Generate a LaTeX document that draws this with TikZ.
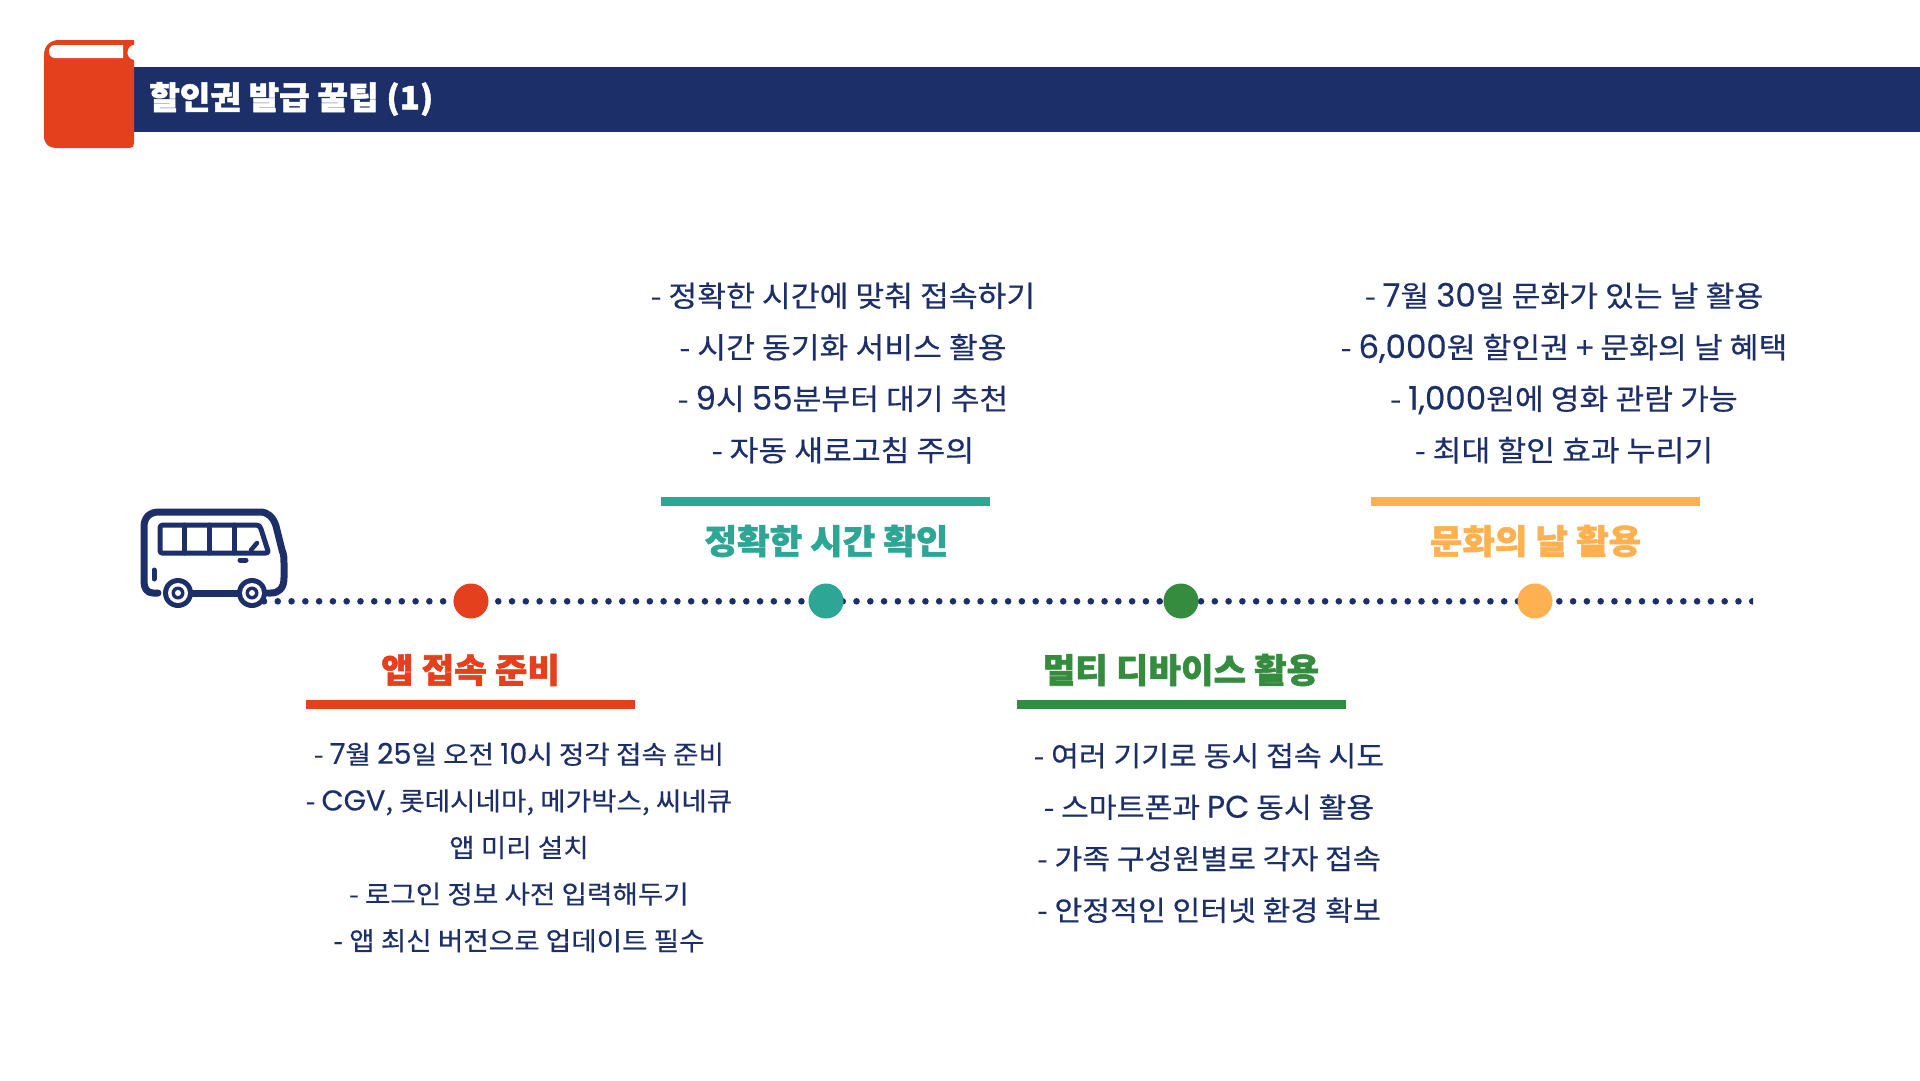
\documentclass[tikz,border=0pt]{standalone}
\usepackage{fontspec}
\setmainfont{Noto Sans CJK KR}[FakeStretch=1.08,FakeBold=0.4,BoldFeatures={FakeBold=1.6,FakeStretch=1.04}]
\newfontfamily\latf{Poppins}[Scale=1.12,FakeBold=0.3]
\newcommand{\lt}[1]{{\latf #1}}
\definecolor{navy}{HTML}{1C2F69}
\definecolor{redc}{HTML}{E5401D}
\definecolor{tealc}{HTML}{2DA696}
\definecolor{greenc}{HTML}{358C3F}
\definecolor{orangec}{HTML}{FFB152}
\tikzset{
 body/.style={text=navy,align=center,inner sep=0pt,font=\fontsize{29}{51.5}\selectfont},
 bodysm/.style={body,font=\fontsize{28}{51.5}\selectfont},
 bodytight/.style={body,font=\fontsize{25.6}{46.6}\selectfont},
 headl/.style={inner sep=0pt,font=\fontsize{34}{40}\selectfont\bfseries},
 mile/.style={circle,minimum size=35pt,inner sep=0pt},
 busl/.style={draw=navy,line width=6pt,line join=round,line cap=round},
 busf/.style={draw=navy,line width=5pt,line join=round,line cap=round},
 dotline/.style={draw=navy,line width=6.6pt,line cap=round,dash pattern=on 0pt off 13.78pt}
}
\begin{document}
\begin{tikzpicture}[x=1pt,y=-1pt]
\useasboundingbox (0,0) rectangle (1920,1080);
% header
\fill[navy] (134,67) rectangle (1920,132);
\node[anchor=west,inner sep=0pt,text=white,font=\fontsize{32}{40}\selectfont\bfseries] (title) at (149,99) {할인권 발급 꿀팁 (1)};
% book
\fill[redc] (134,40) -- (59,40) .. controls (50,40) and (44,46) .. (44,55) -- (44,136) .. controls (44,144) and (49,148) .. (56,148) -- (130,148) .. controls (133,148) and (134,146) .. (134,143) -- cycle;
\fill[white] (123,45) -- (55,45) .. controls (47,45) and (47,58) .. (55,58) -- (123,58) -- cycle;
\fill[white] (134,45) .. controls (127,45) and (124,58) .. (134,60) -- (136,60) -- (136,45) -- cycle;
% dotted line
\coordinate (dstart) at (264,601.3);
\coordinate (dend) at (1752.4,601.3);
\begin{scope}
\clip (250,590) rectangle (1753,612);
\draw[dotline] (dstart) -- (dend);
\end{scope}
% bus
\draw[busl,line width=7pt] (158,593) -- (153,593) .. controls (147,593) and (144,588) .. (144,582) -- (144,527) .. controls (144,517) and (150,512) .. (159,512) -- (260,512) .. controls (268,512) and (273,517) .. (276,526) -- (282,550) .. controls (284,555) and (284,558) .. (284,563) -- (284,578) .. controls (284,588) and (279,593) .. (271,593) -- (268,593);
\draw[busf] (160,528) .. controls (160,526) and (161,525) .. (163,525) -- (256,525) .. controls (259,525) and (260,526) .. (261,529) -- (268,551) .. controls (268,552) and (268,553) .. (266,553) -- (162,553) .. controls (161,553) and (160,552) .. (160,551) -- cycle;
\draw[busf] (184,525) -- (184,553) (209,525) -- (209,553) (234,525) -- (234,553);
\draw[busf,line width=4.5pt] (251,550) -- (257,543);
\draw[busf] (240,560) -- (246,560) (154,570) -- (154,579);
\draw[navy,line width=7pt] (178,593) -- (252,593);
\foreach \wx in {178,252}{
 \fill[navy] (\wx,593) circle[radius=15];
 \fill[white] (\wx,593) circle[radius=10];
 \fill[navy] (\wx,593) circle[radius=6.5];
 \fill[white] (\wx,593) circle[radius=3];
}
% milestones
\node[mile,fill=redc] (m1) at (471,601) {};
\node[mile,fill=tealc] (m2) at (826,601) {};
\node[mile,fill=greenc] (m3) at (1181,601) {};
\node[mile,fill=orangec] (m4) at (1535,601) {};
% bars
\fill[redc] (306,700) rectangle (635,709);
\fill[tealc] (661,497) rectangle (990,506);
\fill[greenc] (1017,700) rectangle (1346,709);
\fill[orangec] (1371,497) rectangle (1700,506);
% headings
\node[headl,text=redc] (h1) at (470.5,670) {앱 접속 준비};
\node[headl,text=tealc] (h2) at (826.5,541) {정확한 시간 확인};
\node[headl,text=greenc] (h3) at (1181,670) {멀티 디바이스 활용};
\node[headl,text=orangec] (h4) at (1535.5,541) {문화의 날 활용};
% bodies
\node[bodytight] (b1) at (519,847.5) {- \lt{7}월 \lt{25}일 오전 \lt{10}시 정각 접속 준비\\- \lt{CGV}, 롯데시네마, 메가박스, 씨네큐\\앱 미리 설치\\- 로그인 정보 사전 입력해두기\\- 앱 최신 버전으로 업데이트 필수};
\node[body] (b2) at (843,373) {- 정확한 시간에 맞춰 접속하기\\- 시간 동기화 서비스 활용\\- \lt{9}시 \lt{55}분부터 대기 추천\\- 자동 새로고침 주의};
\node[bodysm] (b3) at (1209,833) {- 여러 기기로 동시 접속 시도\\- 스마트폰과 \lt{PC} 동시 활용\\- 가족 구성원별로 각자 접속\\- 안정적인 인터넷 환경 확보};
\node[body] (b4) at (1564,373) {- \lt{7}월 \lt{30}일 문화가 있는 날 활용\\- \lt{6,000}원 할인권 + 문화의 날 혜택\\- \lt{1,000}원에 영화 관람 가능\\- 최대 할인 효과 누리기};
\end{tikzpicture}
\end{document}
